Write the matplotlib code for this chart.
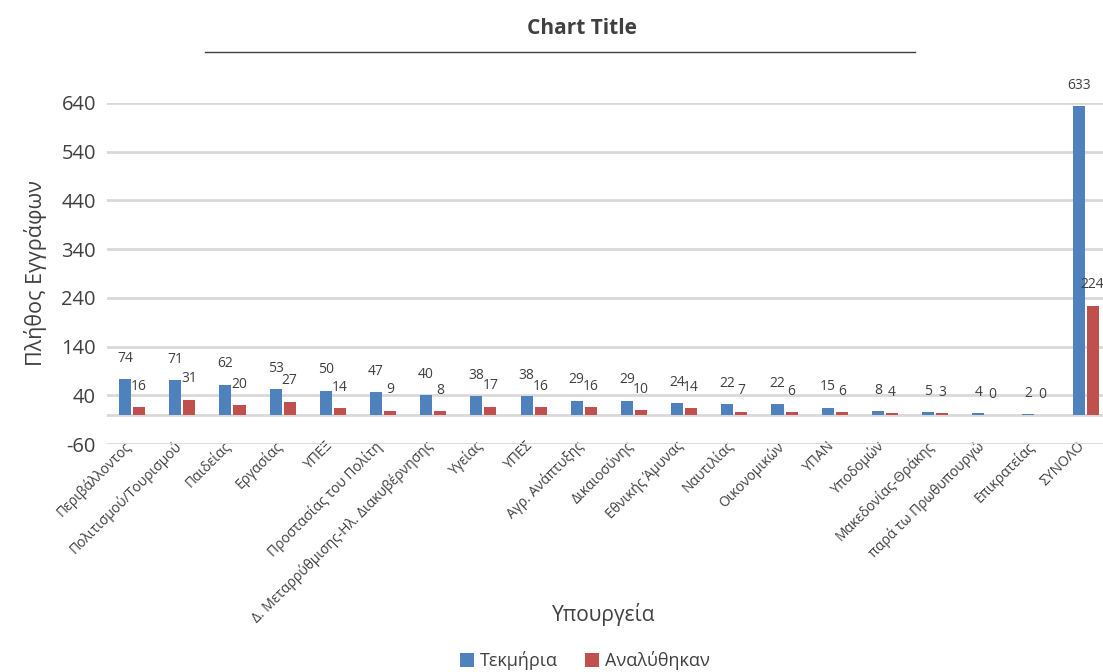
import numpy as np
import matplotlib
matplotlib.use("Agg")
from matplotlib import pyplot as plt
from matplotlib.lines import Line2D
from matplotlib.transforms import ScaledTranslation

plt.rcParams['font.family'] = ['Open Sans', 'DejaVu Sans']
plt.rcParams['axes.unicode_minus'] = False

categories = ["Περιβάλλοντος", "Πολιτισμού/Τουρισμού", "Παιδείας", "Εργασίας", "ΥΠΕΞ",
              "Προστασίας του Πολίτη", "Δ. Μεταρρύθμισης-Ηλ. Διακυβέρνησης", "Υγείας", "ΥΠΕΣ",
              "Αγρ. Ανάπτυξης", "Δικαιοσύνης", "Εθνικής Άμυνας", "Ναυτιλίας", "Οικονομικών",
              "ΥΠΑΝ", "Υποδομών", "Μακεδονίας-Θράκης", "παρά τω Πρωθυπουργώ", "Επικρατείας",
              "ΣΥΝΟΛΟ"]
tekmiria = [74, 71, 62, 53, 50, 47, 40, 38, 38, 29, 29, 24, 22, 22, 15, 8, 5, 4, 2, 633]
analythikan = [16, 31, 20, 27, 14, 9, 8, 17, 16, 16, 10, 14, 7, 6, 6, 4, 3, 0, 0, 224]
yticks = [-60, 40, 140, 240, 340, 440, 540, 640]

blue = '#4F81BD'
red = '#C0504D'
txt = '#404040'

fig = plt.figure(figsize=(11.03, 6.72), dpi=100)
ax = fig.add_axes([0.097, 0.339, 0.91, 0.508])

x = np.arange(len(categories))
w = 0.24
b1 = ax.bar(x - 0.14, tekmiria, w, color=blue, label='Τεκμήρια', zorder=3)
b2 = ax.bar(x + 0.14, analythikan, w, color=red, label='Αναλύθηκαν', zorder=3)

for rects, vals in [(b1, tekmiria), (b2, analythikan)]:
    for r, v in zip(rects, vals):
        ax.annotate(str(v), (r.get_x() + r.get_width() / 2, v), xytext=(0, 15),
                    textcoords='offset points', ha='center', va='center',
                    fontsize=10, color=txt, clip_on=False, annotation_clip=False)

ax.set_ylim(-60, 640)
ax.set_xlim(-0.5, len(categories) - 0.5)
ax.set_yticks(yticks)
ax.yaxis.grid(True, color='#d9d9d9', linewidth=2, zorder=0)
ax.axhline(0, color='#d9d9d9', linewidth=2, zorder=1)
ax.set_axisbelow(True)
for s in ax.spines.values():
    s.set_visible(False)
ax.tick_params(axis='both', length=0)
ax.tick_params(axis='y', labelsize=14.5, labelcolor=txt, pad=8)
ax.set_xticks(x)
ax.set_xticklabels(categories, rotation=45, ha='right', rotation_mode='anchor',
                   fontsize=10, color=txt)
ax.tick_params(axis='x', pad=0)
shift = ScaledTranslation(-6 / 72, 4 / 72, fig.dpi_scale_trans)
for lab in ax.get_xticklabels():
    lab.set_transform(lab.get_transform() + shift)

ax.set_ylabel('Πλήθος Εγγράφων', fontsize=15.5, color=txt, labelpad=10)
fig.text(0.547, 0.085, 'Υπουργεία', fontsize=15, color=txt, ha='center', va='center')

fig.text(0.528, 0.958, 'Chart Title', fontsize=15, fontweight='bold', color=txt,
         ha='center', va='center')
fig.add_artist(Line2D([0.186, 0.83], [0.922, 0.922], color='#404040', linewidth=1))

fig.legend(handles=[b1, b2], loc='center', bbox_to_anchor=(0.53, 0.017), ncol=2,
           frameon=False, fontsize=13, handlelength=0.8, handleheight=0.8,
           handletextpad=0.3, columnspacing=1.5, labelcolor=txt)

fig.savefig('out.png', dpi=100)
